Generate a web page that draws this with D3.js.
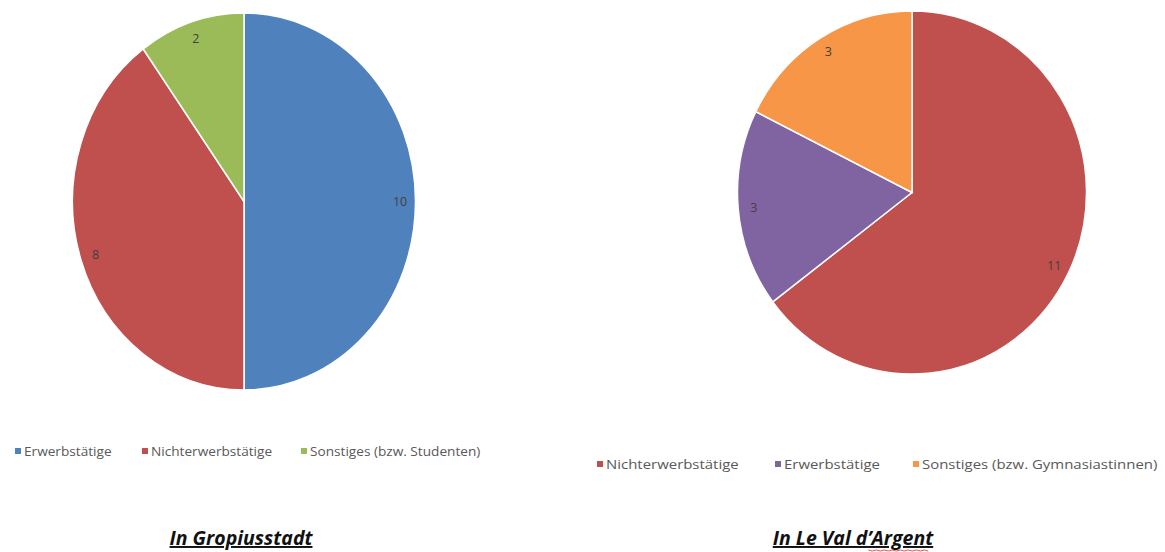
<!DOCTYPE html>
<html>
<head>
<meta charset="utf-8">
<script src="https://cdn.jsdelivr.net/npm/d3@7"></script>
<style>
  body { margin: 0; background: #fff; }
  svg { display: block; font-family: "Open Sans", "Noto Sans", sans-serif; }
</style>
</head>
<body>
<div id="chart"></div>
<script>
// left pie: Gropiusstadt
var leftCats   = ["Erwerbstätige", "Nichterwerbstätige", "Sonstiges (bzw. Studenten)"];
var leftVals   = [10, 8, 2];
var leftCols   = ["#4F81BD", "#C0504D", "#9BBB59"];
var leftTitle  = "In Gropiusstadt";

// right pie: Le Val d'Argent
var rightCats  = ["Nichterwerbstätige", "Erwerbstätige", "Sonstiges (bzw. Gymnasiastinnen)"];
var rightVals  = [11, 3, 3];
var rightCols  = ["#C0504D", "#8064A2", "#F79646"];
var rightTitle = "In Le Val d\u2019Argent";

var W = 1165, H = 552;

var svg = d3.select("#chart").append("svg")
  .attr("width", W)
  .attr("height", H);

function drawPie(cfg) {
  var data = cfg.cats.map(function(c, i){ return {key: c, value: cfg.vals[i], color: cfg.cols[i]}; });

  var pie = d3.pie().sort(null).value(function(d){ return d.value; });
  var arcs = pie(data);

  // draw a unit-radius circle then stretch it to the ellipse of the picture
  var R = 100;
  var arc = d3.arc().innerRadius(0).outerRadius(R);
  var labelArc = d3.arc().innerRadius(R * 0.91).outerRadius(R * 0.91);

  var g = svg.append("g")
    .attr("transform", "translate(" + cfg.cx + "," + cfg.cy + ")");

  g.append("g")
    .attr("transform", "scale(" + (cfg.rx / R) + "," + (cfg.ry / R) + ")")
    .selectAll("path")
    .data(arcs)
    .enter()
    .append("path")
    .attr("d", arc)
    .attr("fill", function(d){ return d.data.color; })
    .attr("stroke", "#fff")
    .attr("stroke-width", 1.5)
    .attr("vector-effect", "non-scaling-stroke");

  g.selectAll("text.lbl")
    .data(arcs)
    .enter()
    .append("text")
    .attr("class", "lbl")
    .attr("x", function(d){ return labelArc.centroid(d)[0] * cfg.rx / R; })
    .attr("y", function(d){ return labelArc.centroid(d)[1] * cfg.ry / R; })
    .attr("dy", "0.35em")
    .attr("text-anchor", "middle")
    .style("font-size", "12.5px")
    .style("fill", "#404040")
    .text(function(d){ return d.data.value; });

  // legend (the picture is stretched sideways a bit, so the legend text is too)
  var lg = svg.append("g")
    .attr("transform", "translate(0," + cfg.legY + ")");
  var items = lg.selectAll("g")
    .data(data)
    .enter()
    .append("g")
    .attr("transform", function(d, i){ return "translate(" + cfg.legX[i] + ",0)"; });
  items.append("rect")
    .attr("x", 0).attr("y", -3)
    .attr("width", 6).attr("height", 6)
    .attr("fill", function(d){ return d.color; });
  items.append("text")
    .attr("transform", "translate(9,0) scale(" + cfg.legStretch + ",1)")
    .attr("dy", "0.35em")
    .style("font-size", "13px")
    .style("fill", "#595959")
    .text(function(d){ return d.key; });

  // title
  var t = svg.append("text")
    .attr("x", cfg.titleX)
    .attr("y", 545)
    .attr("text-anchor", "middle")
    .style("font-size", "19.5px")
    .style("font-weight", "bold")
    .style("font-style", "italic")
    .style("text-decoration", "underline")
    .style("fill", "#111")
    .text(cfg.title);
  return t;
}

drawPie({cats: leftCats, vals: leftVals, cols: leftCols, title: leftTitle,
  cx: 244, cy: 201.5, rx: 171.5, ry: 188.5,
  legY: 451, legX: [15, 142, 301], legStretch: 1.05, titleX: 241});

var rt = drawPie({cats: rightCats, vals: rightVals, cols: rightCols, title: rightTitle,
  cx: 912, cy: 192.5, rx: 174.5, ry: 181.5,
  legY: 464, legX: [597, 775, 913], legStretch: 1.15, titleX: 853});

// red spell-check squiggle under "Argent"
var bb = rt.node().getBBox();
svg.append("path")
  .attr("d", d3.line()(d3.range(0, 16).map(function(i){
    return [bb.x + bb.width - 66 + i * 4, 550 + (i % 2 ? 1 : 0)];
  })))
  .attr("fill", "none")
  .attr("stroke", "#e03030")
  .attr("stroke-width", 0.8);
</script>
</body>
</html>
